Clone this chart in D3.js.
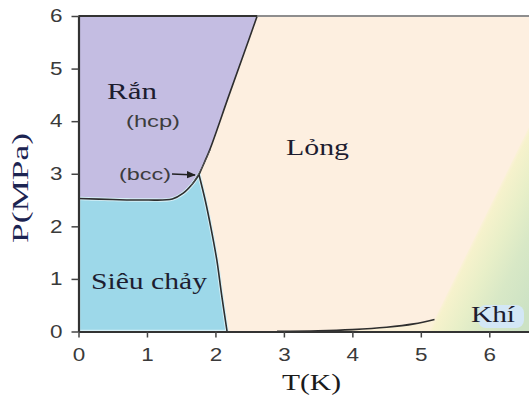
<!DOCTYPE html>
<html>
<head>
<meta charset="utf-8">
<script src="https://cdn.jsdelivr.net/npm/d3@7"></script>
<style>
  body { margin: 0; background: #fff; }
  svg { display: block; }
  .tick text { font-family: "Liberation Sans", Arial, sans-serif; font-size: 17px; fill: #3a3a3a; }
  .tick line { stroke: #444; stroke-width: 1.5; }
</style>
</head>
<body>
<div id="chart"></div>
<script>
// phase diagram values [T (K), P (MPa)]
var solidSuperfluid = [[0, 2.53], [0.5, 2.51], [1.0, 2.5], [1.37, 2.52], [1.53, 2.63], [1.66, 2.8], [1.76, 2.98]];
var lambdaLine = [[1.76, 2.98], [1.85, 2.5], [1.93, 2.0], [2.02, 1.36], [2.09, 0.7], [2.17, 0]];
var meltingLine = [[1.76, 2.98], [1.85, 3.25], [1.93, 3.5], [2.2, 4.5], [2.42, 5.3], [2.61, 6]];
var bccLine = [[1.64, 2.76], [1.78, 3.06], [1.93, 3.47]];
var vaporLine = [[2.17, 0], [2.9, 0.003], [3.5, 0.012], [4.0, 0.035], [4.5, 0.08], [4.9, 0.145], [5.2, 0.23]];
var criticalEdge = [[5.2, 0.23], [6.58, 3.89]];
var xTicks = [0, 1, 2, 3, 4, 5, 6];
var yTicks = [0, 1, 2, 3, 4, 5, 6];

var width = 529, height = 397;
var margin = { top: 16, right: 0, bottom: 65.5, left: 78.5 };

var x = d3.scaleLinear().domain([0, 6.58]).range([margin.left, width - margin.right]);
var y = d3.scaleLinear().domain([0, 6]).range([height - margin.bottom, margin.top]);

var svg = d3.select("#chart").append("svg")
    .attr("width", width)
    .attr("height", height);

var defs = svg.append("defs");
defs.append("clipPath").attr("id", "plot")
    .append("rect")
    .attr("x", x(0)).attr("y", y(6))
    .attr("width", x(6.58) - x(0)).attr("height", y(0) - y(6));

// gradient across the critical edge (peach -> pale yellow -> green)
var p1 = [x(criticalEdge[0][0]), y(criticalEdge[0][1])];
var p2 = [x(criticalEdge[1][0]), y(criticalEdge[1][1])];
var len = Math.hypot(p2[0] - p1[0], p2[1] - p1[1]);
var n = [-(p2[1] - p1[1]) / len, (p2[0] - p1[0]) / len];
var grad = defs.append("linearGradient").attr("id", "gas")
    .attr("gradientUnits", "userSpaceOnUse")
    .attr("x1", p1[0]).attr("y1", p1[1])
    .attr("x2", p1[0] + n[0] * 80).attr("y2", p1[1] + n[1] * 80);
[[0, "#fbf1d8"], [0.04, "#f6f2cc"], [0.3, "#e8efc8"], [0.6, "#d8e8c6"], [1, "#cce2c4"]].forEach(function (s) {
    grad.append("stop").attr("offset", s[0]).attr("stop-color", s[1]);
});

var g = svg.append("g").attr("clip-path", "url(#plot)");
var line = d3.line().x(d => x(d[0])).y(d => y(d[1])).curve(d3.curveCatmullRom);
var area = d3.line().x(d => x(d[0])).y(d => y(d[1])).curve(d3.curveLinear);

// liquid background
g.append("rect")
    .attr("x", x(0)).attr("y", y(6))
    .attr("width", x(6.58) - x(0)).attr("height", y(0) - y(6))
    .attr("fill", "#fdefe0");

// gas / supercritical
var gasPts = vaporLine.concat([criticalEdge[1], [6.58, 0]]);
g.append("path")
    .attr("d", area(gasPts) + "Z")
    .attr("fill", "url(#gas)");

function smoothPts(pts, steps) {
    // sample the curve so the filled polygons share the drawn boundary
    var tmp = document.createElementNS("http://www.w3.org/2000/svg", "path");
    tmp.setAttribute("d", line(pts));
    svg.node().appendChild(tmp);
    var L = tmp.getTotalLength(), out = [];
    for (var i = 0; i <= steps; i++) {
        var p = tmp.getPointAtLength(L * i / steps);
        out.push([p.x, p.y]);
    }
    tmp.remove();
    return out;
}
var meltPx = smoothPts(meltingLine, 40);
var ssPx = smoothPts(solidSuperfluid, 40);
var lamPx = smoothPts(lambdaLine, 40);

// solid
var solidPoly = [[x(0), y(6)], [x(2.61), y(6)]].concat(meltPx.slice().reverse(), ssPx.slice().reverse());
g.append("path")
    .attr("d", "M" + solidPoly.join("L") + "Z")
    .attr("fill", "#c4bde2");

// superfluid
var superPoly = [[x(0), y(0)]].concat(ssPx, lamPx);
g.append("path")
    .attr("d", "M" + superPoly.join("L") + "Z")
    .attr("fill", "#9dd8e9")
    .attr("stroke", "#d6f0f7")
    .attr("stroke-width", 3.5);

// "Khí" light blue patch
g.append("rect")
    .attr("x", 478).attr("y", 305).attr("width", 46).attr("height", 23)
    .attr("rx", 8)
    .attr("fill", "#d3e7f6");

// phase boundaries
[solidSuperfluid, lambdaLine, meltingLine, vaporLine.slice(1)].forEach(function (pts) {
    g.append("path").attr("d", line(pts))
        .attr("fill", "none").attr("stroke", "#2e2e2e").attr("stroke-width", 1.6);
});
g.append("path").attr("d", line(bccLine))
    .attr("fill", "none").attr("stroke", "#555").attr("stroke-width", 1);

// frame top
svg.append("line")
    .attr("x1", x(0)).attr("x2", width).attr("y1", y(6)).attr("y2", y(6))
    .attr("stroke", "#8e8e8e").attr("stroke-width", 2);
svg.append("line")
    .attr("x1", x(0)).attr("x2", x(2.61)).attr("y1", y(6)).attr("y2", y(6))
    .attr("stroke", "#333").attr("stroke-width", 2);

// axes
svg.append("g")
    .attr("transform", "translate(" + x(0) + ",0)")
    .call(d3.axisLeft(y).tickValues(yTicks).tickFormat(d3.format("d")).tickSize(7).tickSizeOuter(0).tickPadding(9));
svg.append("g")
    .attr("transform", "translate(0," + y(0) + ")")
    .call(d3.axisBottom(x).tickValues(xTicks).tickFormat(d3.format("d")).tickSize(6).tickSizeOuter(0).tickPadding(11));
svg.selectAll(".domain").attr("stroke", "#333").attr("stroke-width", 2.2);
svg.selectAll(".tick text")
    .style("font-size", "18px")
    .attr("textLength", 12.5)
    .attr("lengthAdjust", "spacingAndGlyphs");

var serif = "'Liberation Serif', 'Times New Roman', serif";
var sans = "'Liberation Sans', Arial, sans-serif";

// axis titles
svg.append("text")
    .attr("transform", "translate(28,188) rotate(-90)")
    .attr("text-anchor", "middle")
    .style("font-family", serif)
    .style("font-size", "23px")
    .attr("textLength", 110)
    .attr("lengthAdjust", "spacingAndGlyphs")
    .attr("fill", "#1c2452")
    .text("P(MPa)");
svg.append("text")
    .attr("x", 282).attr("y", 390)
    .style("font-family", serif)
    .style("font-size", "24px")
    .attr("textLength", 59)
    .attr("lengthAdjust", "spacingAndGlyphs")
    .attr("fill", "#1a1a1a")
    .text("T(K)");

// region labels: text, x, baseline, font, size, colour, width
[["Rắn", 107, 99, serif, 24, "#1d1d30", 50],
 ["Lỏng", 286, 155, serif, 24, "#1d1d30", 63],
 ["Siêu chảy", 91, 289, serif, 24, "#1d1d30", 116],
 ["Khí", 471, 322, serif, 23, "#1d1d30", 44],
 ["(hcp)", 126, 127, sans, 17, "#3c3c3c", 54],
 ["(bcc)", 119, 180, sans, 17, "#3c3c3c", 52]].forEach(function (t) {
    svg.append("text")
        .attr("x", t[1]).attr("y", t[2])
        .style("font-family", t[3])
        .style("font-size", t[4] + "px")
        .attr("textLength", t[6])
        .attr("lengthAdjust", "spacingAndGlyphs")
        .attr("fill", t[5])
        .text(t[0]);
});

// bcc arrow
defs.append("marker").attr("id", "arrow")
    .attr("viewBox", "0 0 10 10").attr("refX", 9).attr("refY", 5)
    .attr("markerWidth", 6).attr("markerHeight", 6).attr("orient", "auto")
    .append("path").attr("d", "M0,1L10,5L0,9Z").attr("fill", "#222");
svg.append("line")
    .attr("x1", 172).attr("y1", 174).attr("x2", 195).attr("y2", 175)
    .attr("stroke", "#222").attr("stroke-width", 1.5)
    .attr("marker-end", "url(#arrow)");
</script>
</body>
</html>
